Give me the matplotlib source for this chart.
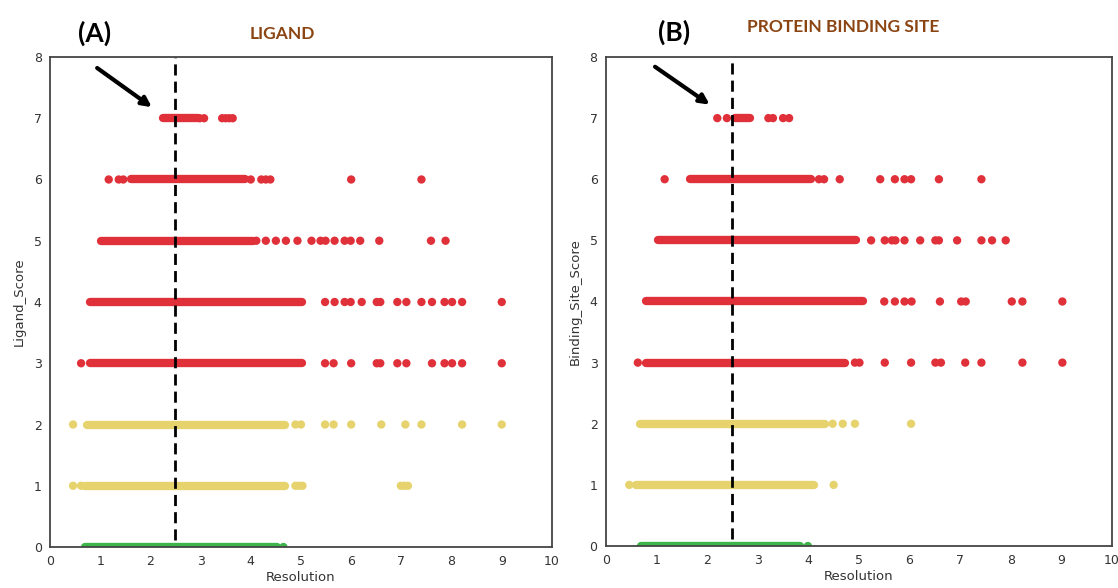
import matplotlib
matplotlib.use("Agg")
import matplotlib.pyplot as plt

# ---------------- data ----------------
scores = [7, 6, 5, 4, 3, 2, 1, 0]

# Panel A (Ligand): dense bands [start, end] of Resolution per score
lig_band_start = [2.25, 1.62, 1.01, 0.80, 0.80, 0.73, 0.69, 0.69]
lig_band_end   = [2.95, 3.89, 4.04, 5.03, 5.03, 4.68, 4.68, 4.53]
# Panel A isolated points per score
lig_pts_7 = [2.98, 3.07, 3.43, 3.50, 3.57, 3.64]
lig_pts_6 = [1.17, 1.37, 1.46, 4.00, 4.21, 4.30, 4.39, 6.00, 7.40]
lig_pts_5 = [4.11, 4.30, 4.50, 4.70, 4.93, 5.21, 5.39, 5.49, 5.67, 5.87, 5.99,
             6.18, 6.56, 7.59, 7.88]
lig_pts_4 = [5.48, 5.67, 5.87, 5.99, 6.21, 6.51, 6.58, 6.92, 7.10, 7.40, 7.61,
             7.86, 8.01, 8.21, 9.00]
lig_pts_3 = [0.62, 5.48, 5.65, 6.00, 6.51, 6.58, 6.92, 7.10, 7.61, 7.86, 8.01,
             8.21, 9.00]
lig_pts_2 = [0.46, 4.89, 5.00, 5.48, 5.65, 6.00, 6.60, 7.08, 7.40, 8.21, 9.00]
lig_pts_1 = [0.46, 0.62, 4.89, 4.96, 5.03, 6.99, 7.06, 7.13]
lig_pts_0 = [4.65]

# Panel B (Protein binding site)
bs_band_start = [2.56, 1.67, 1.02, 0.80, 0.80, 0.68, 0.59, 0.70]
bs_band_end   = [2.84, 4.05, 4.94, 5.08, 4.73, 4.33, 4.12, 3.83]
bs_pts_7 = [2.20, 2.39, 3.21, 3.30, 3.50, 3.62]
bs_pts_6 = [1.16, 4.21, 4.31, 4.62, 5.42, 5.71, 5.90, 6.03, 6.58, 7.42]
bs_pts_5 = [5.24, 5.51, 5.65, 5.72, 5.90, 6.21, 6.51, 6.58, 6.94, 7.42, 7.63, 7.90]
bs_pts_4 = [5.50, 5.71, 5.90, 6.04, 6.60, 7.02, 7.11, 8.02, 8.23, 9.02]
bs_pts_3 = [0.63, 4.92, 5.01, 5.51, 6.03, 6.51, 6.62, 7.10, 7.42, 8.23, 9.02]
bs_pts_2 = [4.48, 4.68, 4.92, 6.03]
bs_pts_1 = [0.46, 4.50]
bs_pts_0 = [3.99]

cutoff_resolution = 2.5
xticks = list(range(0, 11))
yticks = list(range(0, 9))

RED = "#E0313A"
YELLOW = "#E6D36E"
GREEN = "#3DB54B"
BROWN = "#8B4513"


def color_for(score):
    if score >= 3:
        return RED
    if score >= 1:
        return YELLOW
    return GREEN


plt.rcParams["font.family"] = ["DejaVu Sans"]

fig = plt.figure(figsize=(11.18, 5.88), dpi=100)
axA = fig.add_axes([0.0447, 0.0697, 0.449, 0.8334])
axB = fig.add_axes([0.5420, 0.0714, 0.4526, 0.8317])

panels = [
    (axA, lig_band_start, lig_band_end,
     [lig_pts_7, lig_pts_6, lig_pts_5, lig_pts_4, lig_pts_3, lig_pts_2, lig_pts_1, lig_pts_0],
     "Ligand_Score"),
    (axB, bs_band_start, bs_band_end,
     [bs_pts_7, bs_pts_6, bs_pts_5, bs_pts_4, bs_pts_3, bs_pts_2, bs_pts_1, bs_pts_0],
     "Binding_Site_Score"),
]

MS = 6.0  # marker diameter in points
for ax, bstart, bend, pts, ylab in panels:
    for i, sc in enumerate(scores):
        c = color_for(sc)
        ax.plot([bstart[i], bend[i]], [sc, sc], color=c, lw=MS,
                solid_capstyle="round", zorder=2)
        ax.scatter(pts[i], [sc] * len(pts[i]), s=MS ** 2, color=c,
                   edgecolors="none", zorder=2)
    ax.axvline(cutoff_resolution, ymin=0.014, ymax=1, color="black", lw=2,
               dashes=(4, 2.2), zorder=3)
    ax.set_xlim(0, 10)
    ax.set_ylim(0, 8)
    ax.set_xticks(xticks)
    ax.set_yticks(yticks)
    ax.tick_params(length=0, labelsize=9, colors="#333333", pad=6)
    ax.set_xlabel("Resolution", fontsize=9.5, color="#333333", labelpad=2)
    ax.set_ylabel(ylab, fontsize=9.5, color="#333333", labelpad=6)
    for sp in ax.spines.values():
        sp.set_color("#444444")
        sp.set_linewidth(1.3)
        sp.set_zorder(4)

# arrows
axA.annotate("", xy=(2.03, 7.18), xytext=(0.94, 7.82),
             arrowprops=dict(arrowstyle="-|>", lw=3, color="black",
                             mutation_scale=14, shrinkA=0, shrinkB=0))
axB.annotate("", xy=(2.05, 7.22), xytext=(0.97, 7.84),
             arrowprops=dict(arrowstyle="-|>", lw=3, color="black",
                             mutation_scale=14, shrinkA=0, shrinkB=0))

# titles
fig.text(95 / 1118, 1 - 33 / 588, "(A)", fontsize=19, fontweight="bold",
         family=["Lato", "DejaVu Sans"], ha="center", va="center", color="black")
fig.text(282 / 1118, 1 - 34 / 588, "LIGAND", fontsize=12.5, fontweight="bold",
         family=["Lato", "DejaVu Sans"], ha="center", va="center", color=BROWN)
fig.text(674 / 1118, 1 - 32 / 588, "(B)", fontsize=19, fontweight="bold",
         family=["Lato", "DejaVu Sans"], ha="center", va="center", color="black")
fig.text(843 / 1118, 1 - 27 / 588, "PROTEIN BINDING SITE", fontsize=12.5,
         fontweight="bold", family=["Lato", "DejaVu Sans"], ha="center",
         va="center", color=BROWN)

fig.savefig("out.png", dpi=100)
